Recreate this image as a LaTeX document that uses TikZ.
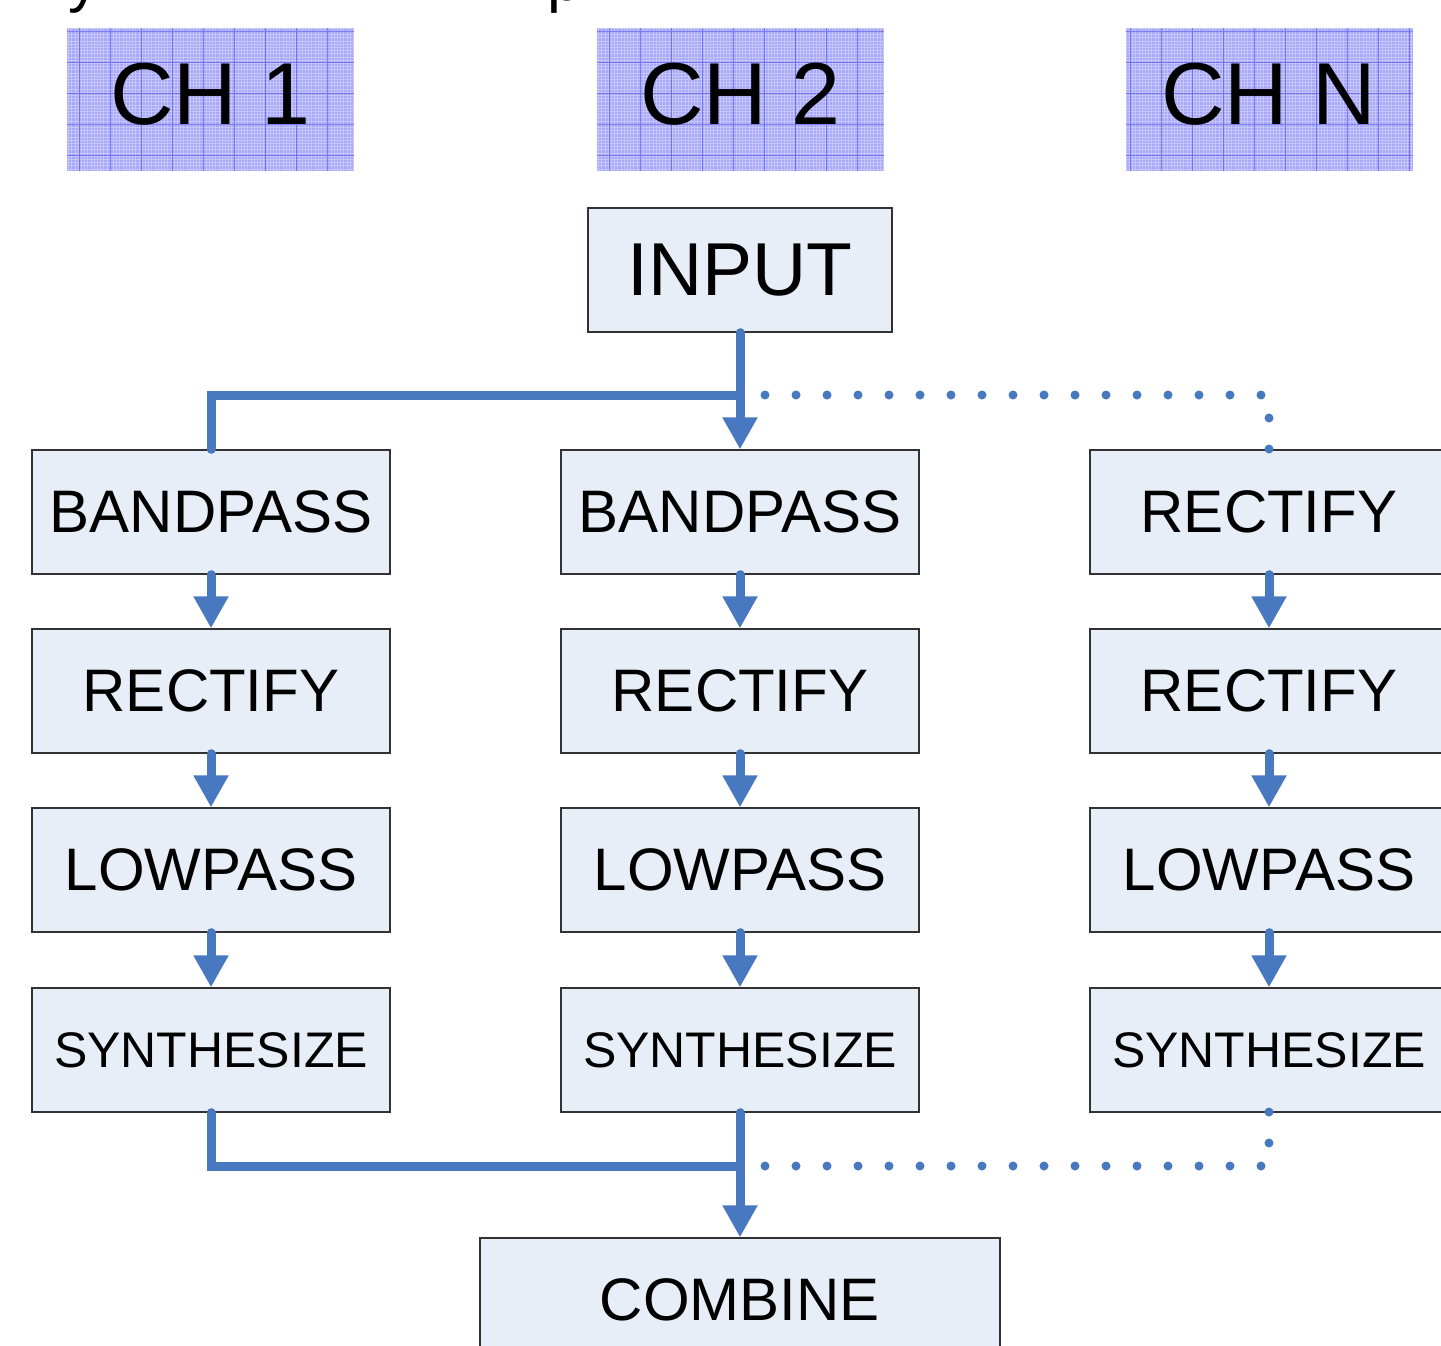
\documentclass[tikz,border=0pt]{standalone}
\usepackage{fontspec}
\setmainfont{Liberation Sans}
\usetikzlibrary{arrows.meta}
\definecolor{boxfill}{RGB}{232,238,248}
\definecolor{boxline}{RGB}{50,50,50}
\definecolor{conncol}{RGB}{72,120,192}
\definecolor{chfill}{RGB}{168,168,250}
\definecolor{chgrid}{RGB}{40,40,235}
\newcommand{\myfs}[1]{\fontsize{#1}{#1}\selectfont}
\tikzset{
  stage/.style={draw=boxline, line width=1.3pt, fill=boxfill, inner sep=0pt,
    minimum width=358pt, minimum height=124pt, font=\myfs{60}},
  chbox/.style={fill=chfill, inner sep=0pt, minimum width=287pt, minimum height=143pt,
    font=\myfs{88}, text depth=12pt,
    path picture={
      \draw[white, opacity=0.35, line width=1pt, step=3.2pt]
        (path picture bounding box.south west) grid (path picture bounding box.north east);
      \draw[chgrid, opacity=0.45, line width=1pt, step=31pt]
        (path picture bounding box.south west) grid (path picture bounding box.north east);
    }},
  conn/.style={draw=conncol, line width=9pt, line cap=round},
  arr/.style={conn, -{Triangle[width=33pt,length=32pt]}},
  dots/.style={draw=conncol, line width=9pt, line cap=round, dash pattern=on 0pt off 31pt},
}
\begin{document}
\begin{tikzpicture}[x=1pt,y=-1pt]
\useasboundingbox (0,0) rectangle (1441,1345);
\clip (0,0) rectangle (1441,1345);
% clipped title fragments
\node[anchor=base west, inner sep=0pt, font=\myfs{62}] (ty) at (68,0) {y};
\node[anchor=base west, inner sep=0pt, font=\myfs{62}] (tp) at (547,0) {p};
% channel labels
\node[chbox] (ch1) at (210.5,99.5) {CH 1};
\node[chbox] (ch2) at (740.5,99.5) {CH 2};
\node[chbox] (chn) at (1269,99.5) {CH N};
% input
\node[stage, minimum width=304pt, font=\myfs{75}] (input) at (740,270) {INPUT};
% columns
\node[stage] (a1) at (211,512) {BANDPASS};
\node[stage] (a2) at (211,691) {RECTIFY};
\node[stage] (a3) at (211,870) {LOWPASS};
\node[stage, font=\myfs{50}] (a4) at (211,1050) {SYNTHESIZE};
\node[stage] (b1) at (740,512) {BANDPASS};
\node[stage] (b2) at (740,691) {RECTIFY};
\node[stage] (b3) at (740,870) {LOWPASS};
\node[stage, font=\myfs{50}] (b4) at (740,1050) {SYNTHESIZE};
\node[stage] (c1) at (1269,512) {RECTIFY};
\node[stage] (c2) at (1269,691) {RECTIFY};
\node[stage] (c3) at (1269,870) {LOWPASS};
\node[stage, font=\myfs{50}] (c4) at (1269,1050) {SYNTHESIZE};
% combine
\node[stage, minimum width=520pt] (comb) at (740,1300) {COMBINE};
% column arrows
\foreach \c in {a,b,c}{
  \draw[arr] (\c1.south) -- (\c2.north);
  \draw[arr] (\c2.south) -- (\c3.north);
  \draw[arr] (\c3.south) -- (\c4.north);
}
% top distribution
\coordinate (jt) at (740,395);
\coordinate (dt) at (765,395);
\draw[conn] (a1.north) |- (jt);
\draw[arr] (input.south) -- (b1.north);
\draw[dots] (dt) -| ([yshift=-1pt]c1.north);
% bottom collection
\coordinate (jb) at (740,1166);
\coordinate (db) at (765,1166);
\draw[conn] (a4.south) |- (jb);
\draw[arr] (b4.south) -- (comb.north);
\draw[dots] (db) -| ([yshift=1pt]c4.south);
\end{tikzpicture}
\end{document}
